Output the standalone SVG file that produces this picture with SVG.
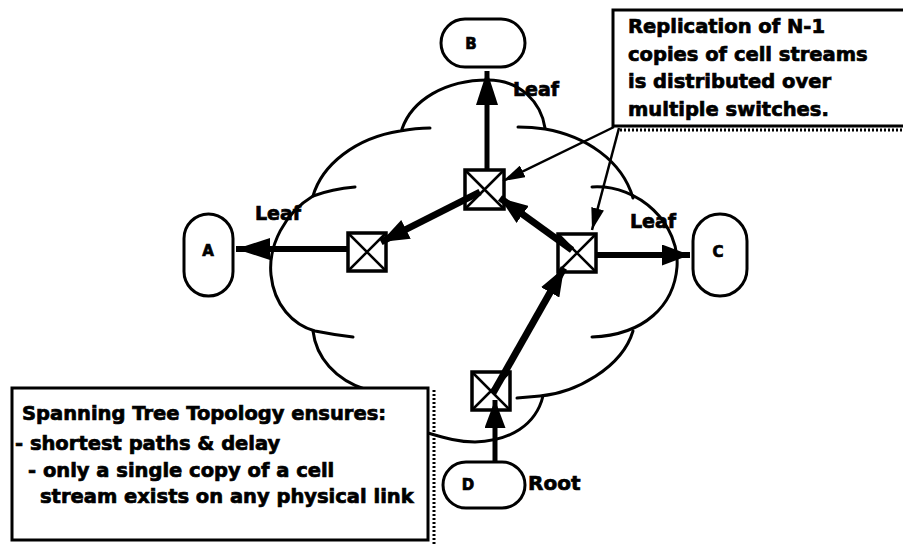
<svg xmlns="http://www.w3.org/2000/svg" width="903" height="545" viewBox="0 0 903 545">
<style>
.cl{fill:none;stroke:#000;stroke-width:3;stroke-linecap:round}
.sw{fill:#fff;stroke:#000;stroke-width:3.5}
.sx{stroke:#000;stroke-width:2.5}
.pill{fill:#fff;stroke:#000;stroke-width:3}
.big{fill:none;stroke:#000;stroke-linecap:butt}
.thin{fill:none;stroke:#000;stroke-width:2.5}
.t{font-family:"DejaVu Sans",sans-serif;font-weight:bold;fill:#000;stroke:#000;stroke-width:0.7}
.box{fill:#fff;stroke:#000;stroke-width:3}
.sh{fill:none;stroke:#000;stroke-width:3;stroke-dasharray:2 2}
</style>
<defs>
<marker id="ahL" markerUnits="userSpaceOnUse" markerWidth="34" markerHeight="22" viewBox="0 0 34 22" refX="34" refY="11" orient="auto"><path d="M0,0 L34,11 L0,22 z" fill="#000"/></marker>
<marker id="ahM" markerUnits="userSpaceOnUse" markerWidth="28" markerHeight="21" viewBox="0 0 28 21" refX="28" refY="10.5" orient="auto"><path d="M0,0 L28,10.5 L0,21 z" fill="#000"/></marker>
<marker id="ahS" markerUnits="userSpaceOnUse" markerWidth="22" markerHeight="13" viewBox="0 0 22 13" refX="22" refY="6.5" orient="auto"><path d="M0,0 L22,6.5 L0,13 z" fill="#000"/></marker>
</defs>

<g id="cloud">
<path class="cl" d="M313,196 C322,165 355,138 400,131 Q416,128 430,128"/>
<path class="cl" d="M402,129 C412,100 445,80 488,80 C520,80 541,102 545,128"/>
<path class="cl" d="M518,127 Q532,127 545,129 C585,136 622,160 633,198"/>
<path class="cl" d="M592,187 C640,184 680,225 677,267 C674,305 645,335 592,337"/>
<path class="cl" d="M633,331 C622,368 575,393 540,396 Q528,397 517,398"/>
<path class="cl" d="M543,396 C536,425 510,441 475,442 C458,442 445,438 428,433"/>
<path class="cl" d="M355,187 Q332,189 313,196 C285,213 268,245 271,275 C274,305 293,325 315,331 Q335,335 353,337"/>
<path class="cl" d="M313,331 C316,357 335,380 367,390"/>
</g>

<g id="nodeA"><rect class="pill" x="184" y="214" width="49" height="82" rx="24.5"/><text class="t" x="208" y="256" font-size="15" text-anchor="middle">A</text></g>
<g id="nodeB"><rect class="pill" x="441" y="19" width="84" height="48" rx="24"/><text class="t" x="471" y="49" font-size="15" text-anchor="middle">B</text></g>
<g id="nodeC"><rect class="pill" x="693" y="214" width="54" height="82" rx="27"/><text class="t" x="718" y="257" font-size="15" text-anchor="middle">C</text></g>
<g id="nodeD"><rect class="pill" x="443" y="462" width="82" height="46" rx="23"/><text class="t" x="468" y="490" font-size="15" text-anchor="middle">D</text></g>

<g id="sw1"><rect class="sw" x="348" y="233" width="38" height="38"/><path class="sx" d="M348,233 L386,271 M386,233 L348,271"/></g>
<g id="sw2"><rect class="sw" x="465" y="170" width="39" height="39"/><path class="sx" d="M465,170 L504,209 M504,170 L465,209"/></g>
<g id="sw3"><rect class="sw" x="558" y="234" width="38" height="38"/><path class="sx" d="M558,234 L596,272 M596,234 L558,272"/></g>
<g id="sw4"><rect class="sw" x="472" y="372" width="38" height="38"/><path class="sx" d="M472,372 L510,410 M510,372 L472,410"/></g>

<g id="connectors">
<path class="big" stroke-width="5" d="M487,170 L487,71" marker-end="url(#ahL)"/>
<path class="big" stroke-width="6" d="M348,249 L236,249" marker-end="url(#ahL)"/>
<path class="big" stroke-width="6" d="M596,255 L690,255" marker-end="url(#ahM)"/>
<path class="big" stroke-width="7" d="M480,192 L381,242" marker-end="url(#ahM)"/>
<path class="big" stroke-width="7" d="M572,250 L500,198" marker-end="url(#ahM)"/>
<path class="big" stroke-width="7" d="M493,393 L564,268" marker-end="url(#ahM)"/>
<path class="big" stroke-width="5" d="M495,462 L495,400" marker-end="url(#ahM)"/>
<path class="thin" d="M614,127 L503,181" marker-end="url(#ahS)"/>
<path class="thin" d="M619,128 L592,230" marker-end="url(#ahS)"/>
</g>

<g id="labels">
<text class="t" x="513" y="96" font-size="19">Leaf</text>
<text class="t" x="255" y="220" font-size="19">Leaf</text>
<text class="t" x="630" y="228" font-size="19">Leaf</text>
<text class="t" x="528" y="490" font-size="20">Root</text>
</g>

<g id="note-top">
<rect class="box" x="613" y="10" width="300" height="116"/>
<path class="sh" d="M620,130 L903,130"/>
<text class="t" font-size="19.5"><tspan x="628" y="33">Replication of N-1</tspan><tspan x="628" y="61">copies of cell streams</tspan><tspan x="628" y="88">is distributed over</tspan><tspan x="628" y="116">multiple switches.</tspan></text>
</g>

<g id="note-bottom">
<rect class="box" x="12" y="388" width="416" height="152"/>
<path class="sh" d="M434,390 L434,545"/>
<text class="t" font-size="19.5"><tspan x="22" y="420">Spanning Tree Topology ensures:</tspan><tspan x="15" y="450">- shortest paths &amp; delay</tspan><tspan x="28" y="477">- only a single copy of a cell</tspan><tspan x="40" y="503">stream exists on any physical link</tspan></text>
</g>
</svg>
